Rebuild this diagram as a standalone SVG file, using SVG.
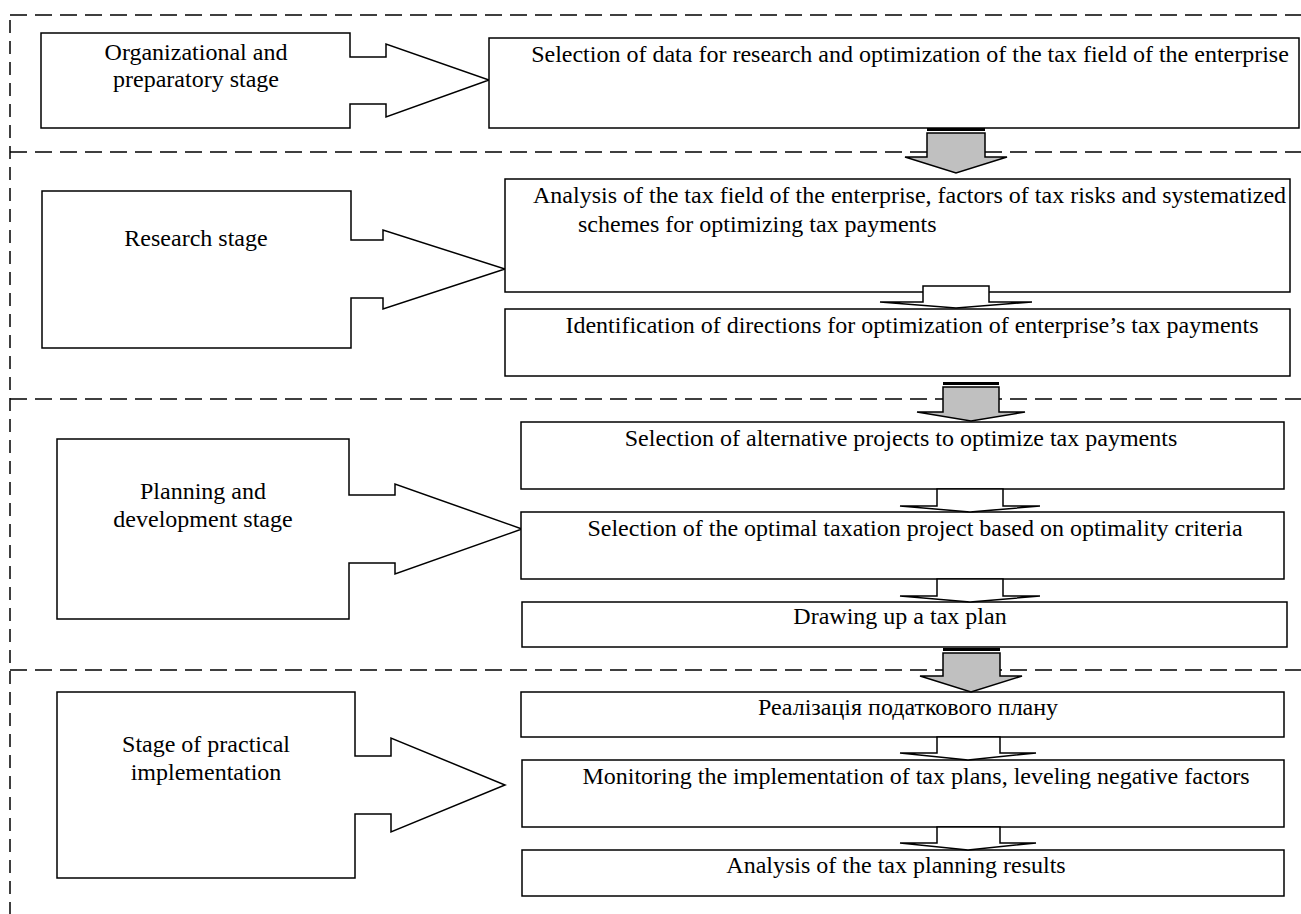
<svg xmlns="http://www.w3.org/2000/svg" width="1301" height="914" viewBox="0 0 1301 914">
<style>
.dash{stroke:#000;stroke-width:1.5;stroke-dasharray:17 8;fill:none}
.vdash{stroke:#000;stroke-width:1.5;stroke-dasharray:13 8;fill:none}
.box{fill:#fff;stroke:#000;stroke-width:1.5}
.stage{fill:#fff;stroke:#000;stroke-width:1.5}
.garrow{fill:#c0c0c0;stroke:#000;stroke-width:1.5}
.warrow{fill:#fff;stroke:#000;stroke-width:1.5}
text{font-family:"Liberation Serif","Times New Roman",serif;font-size:24px;fill:#000}
.c{text-anchor:middle}
</style>
<rect width="1301" height="914" fill="#fff"/>
<g id="frame">
<line class="dash" x1="10" y1="15" x2="1301" y2="15"/>
<line class="dash" x1="10" y1="152" x2="1301" y2="152"/>
<line class="dash" x1="10" y1="399" x2="1301" y2="399"/>
<line class="dash" x1="10" y1="670" x2="1301" y2="670"/>
<line class="vdash" x1="10" y1="20" x2="10" y2="914"/>
</g>
<g id="stage1">
<polygon class="stage" points="41,33 350,33 350,57 386,57 386,44 489,80 386,117 386,104 350,104 350,128 41,128"/>
<text class="c" x="196" y="60">Organizational and</text>
<text class="c" x="196" y="87">preparatory stage</text>
</g>
<g id="stage2">
<polygon class="stage" points="42,191 351,191 351,240 383,240 383,230 505,269 383,309 383,298 351,298 351,348 42,348"/>
<text class="c" x="196" y="246">Research stage</text>
</g>
<g id="stage3">
<polygon class="stage" points="57,439 349,439 349,495 395,495 395,484 522,529 395,574 395,563 349,563 349,619 57,619"/>
<text class="c" x="203" y="499">Planning and</text>
<text class="c" x="203" y="527">development stage</text>
</g>
<g id="stage4">
<polygon class="stage" points="57,692 355,692 355,756 391,756 391,738 505,785 391,832 391,814 355,814 355,878 57,878"/>
<text class="c" x="206" y="752">Stage of practical</text>
<text class="c" x="206" y="780">implementation</text>
</g>
<g id="box1">
<rect class="box" x="489" y="38" width="810" height="90"/>
<text class="c" x="910" y="62">Selection of data for research and optimization of the tax field of the enterprise</text>
</g>
<g id="box2">
<rect class="box" x="505" y="179" width="785" height="113"/>
<text x="533" y="203">Analysis of the tax field of the enterprise, factors of tax risks and systematized</text>
<text x="578" y="232">schemes for optimizing tax payments</text>
</g>
<g id="box3">
<rect class="box" x="505" y="309" width="785" height="67"/>
<text class="c" x="912" y="333">Identification of directions for optimization of enterprise’s tax payments</text>
</g>
<g id="box4">
<rect class="box" x="521" y="422" width="763" height="67"/>
<text class="c" x="901" y="446">Selection of alternative projects to optimize tax payments</text>
</g>
<g id="box5">
<rect class="box" x="521" y="512" width="763" height="67"/>
<text class="c" x="915" y="536">Selection of the optimal taxation project based on optimality criteria</text>
</g>
<g id="box6">
<rect class="box" x="522" y="602" width="765" height="45"/>
<text class="c" x="900" y="624">Drawing up a tax plan</text>
</g>
<g id="box7">
<rect class="box" x="521" y="692" width="763" height="45"/>
<text class="c" x="908" y="715">Реалізація податкового плану</text>
</g>
<g id="box8">
<rect class="box" x="522" y="760" width="762" height="67"/>
<text class="c" x="916" y="784">Monitoring the implementation of tax plans, leveling negative factors</text>
</g>
<g id="box9">
<rect class="box" x="522" y="850" width="762" height="46"/>
<text class="c" x="896" y="873">Analysis of the tax planning results</text>
</g>
<g id="connectors">
<rect x="927" y="128" width="58" height="3" fill="#000"/>
<polygon class="garrow" points="927,133 985,133 985,157 1007,157 956,173 905,157 927,157"/>
<rect x="943" y="382" width="56" height="3" fill="#000"/>
<polygon class="garrow" points="943,387 999,387 999,412 1025,412 971,421 917,412 943,412"/>
<rect x="943" y="648" width="57" height="3" fill="#000"/>
<polygon class="garrow" points="943,653 1000,653 1000,676 1022,676 971,692 920,676 943,676"/>
<polygon class="warrow" points="923,286 989,286 989,302 1032,302 956,308 880,302 923,302"/>
<polygon class="warrow" points="937,489 1003,489 1003,506 1040,506 970,512 900,506 937,506"/>
<polygon class="warrow" points="937,579 1003,579 1003,596 1040,596 970,602 900,596 937,596"/>
<polygon class="warrow" points="937,737 1000,737 1000,753 1036,753 968,760 900,753 937,753"/>
<polygon class="warrow" points="937,827 1000,827 1000,843 1036,843 968,850 900,843 937,843"/>
</g>
</svg>
